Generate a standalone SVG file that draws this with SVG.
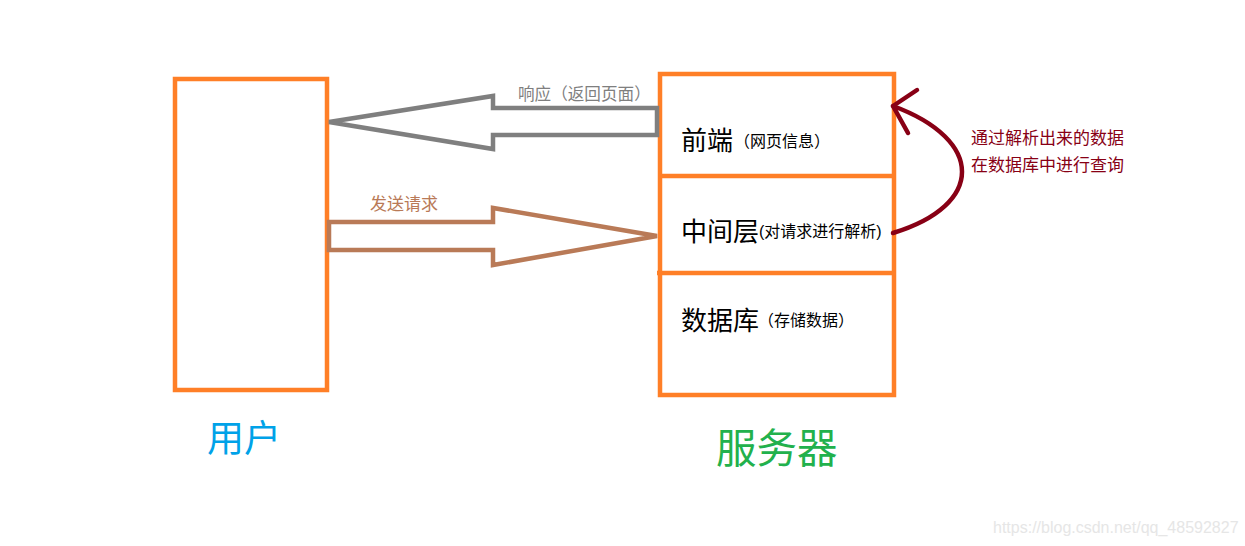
<svg xmlns="http://www.w3.org/2000/svg" width="1245" height="546" viewBox="0 0 1245 546">
<style>
.box{fill:none;stroke:#FF7F27;stroke-width:4.5}
.t{font-family:"Liberation Sans","Noto Sans CJK SC",sans-serif}
.big{font-size:26px;fill:#000}
.small{font-size:16px;fill:#000}
.red{fill:none;stroke:#880015;stroke-width:4.5;stroke-linecap:round;stroke-linejoin:round}
</style>
<rect width="1245" height="546" fill="#fff"/>
<g id="user">
<rect class="box" x="175" y="79" width="152" height="311"/>
<text class="t" x="207" y="452" font-size="37" fill="#00A2E8">用户</text>
</g>
<g id="server">
<rect class="box" x="660" y="74" width="234" height="321"/>
<line class="box" x1="660" y1="176" x2="894" y2="176"/>
<line class="box" x1="657" y1="273" x2="894" y2="273"/>
<text class="t" x="716" y="463" font-size="40.5" fill="#22B14C">服务器</text>
</g>
<g id="frontend">
<text class="t big" x="681" y="150">前端</text>
<text class="t small" x="734" y="147">（网页信息）</text>
</g>
<g id="middle">
<text class="t big" x="681" y="241">中间层</text>
<text class="t small" x="759" y="237">(对请求进行解析)</text>
</g>
<g id="database">
<text class="t big" x="681" y="330">数据库</text>
<text class="t small" x="758" y="326">（存储数据）</text>
</g>
<g id="connectors">
<polygon points="657,108 493,108 493,96 329,122 493,149 493,135 657,135" fill="none" stroke="#7F7F7F" stroke-width="4.5" stroke-linejoin="miter"/>
<polygon points="329,222 493,222 493,208 657,236 493,265 493,250 329,250" fill="none" stroke="#B97A57" stroke-width="4.5" stroke-linejoin="miter"/>
<path class="red" d="M893 233 C985 205 985 140 893 106"/>
<path class="red" d="M917 90 L893 106 L908 133"/>
<text class="t" x="518" y="100" font-size="16.6" fill="#7F7F7F">响应（返回页面）</text>
<text class="t" x="370" y="210" font-size="17" fill="#B97A57">发送请求</text>
<text class="t" x="971" y="144" font-size="17" fill="#880015">通过解析出来的数据</text>
<text class="t" x="971" y="171" font-size="17" fill="#880015">在数据库中进行查询</text>
</g>
<text class="t" x="993" y="533" font-size="16" fill="#E6E6E6">https://blog.csdn.net/qq_48592827</text>
</svg>
